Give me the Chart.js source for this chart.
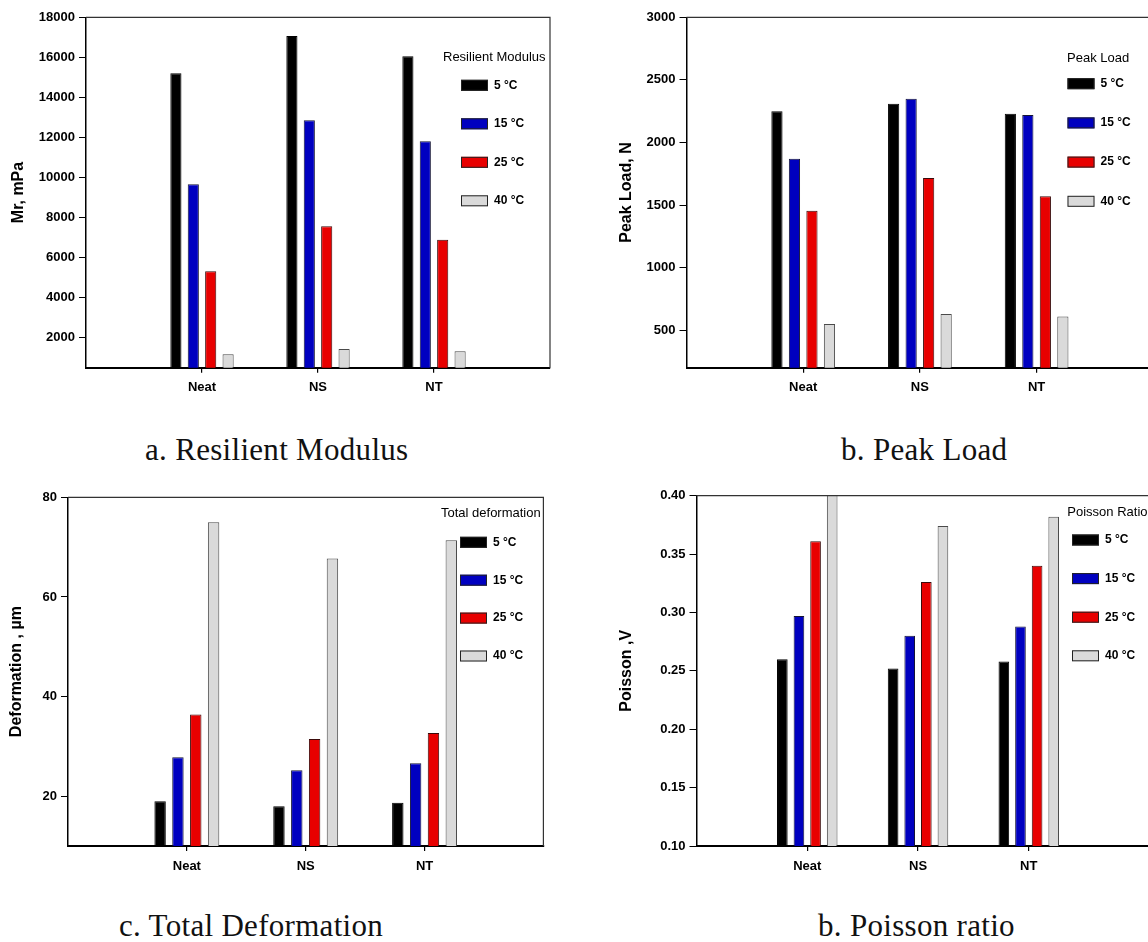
<!DOCTYPE html>
<html>
<head>
<meta charset="utf-8">
<script src="https://cdn.jsdelivr.net/npm/chart.js@4/dist/chart.umd.min.js"></script>
<style>
  html, body { margin: 0; padding: 0; background: #fff; overflow: hidden; }
  body { width: 1148px; height: 942px; position: relative; }
  canvas { position: absolute; }
  .cap {
    position: absolute;
    font-family: "Liberation Serif", "DejaVu Serif", serif;
    font-size: 31px;
    line-height: 31px;
    letter-spacing: 0.3px;
    color: #111;
    white-space: nowrap;
  }
</style>
</head>
<body>
<canvas id="mchart" width="570" height="400" style="left:0px;top:0px"></canvas>
<canvas id="lchart" width="720" height="400" style="left:575px;top:0px"></canvas>
<canvas id="dchart" width="570" height="400" style="left:0px;top:480px"></canvas>
<canvas id="pchart" width="720" height="400" style="left:575px;top:480px"></canvas>

<div class="cap" style="left:145px;top:434px">a. Resilient Modulus</div>
<div class="cap" style="left:841px;top:434px">b. Peak Load</div>
<div class="cap" style="left:119px;top:910px">c. Total Deformation</div>
<div class="cap" style="left:818px;top:910px">b. Poisson ratio</div>

<script>
// data
const groups = ['Neat', 'NS', 'NT'];
const temps = ['5 °C', '15 °C', '25 °C', '40 °C'];

// a. resilient modulus, Mr (mPa)
const mr5 = [15200, 17070, 16050];
const mr15 = [9650, 12850, 11800];
const mr25 = [5300, 7550, 6880];
const mr40 = [1150, 1420, 1300];
const mrTicks = [2000, 4000, 6000, 8000, 10000, 12000, 14000, 16000, 18000];

// b. peak load (N)
const load5 = [2250, 2310, 2230];
const load15 = [1870, 2350, 2220];
const load25 = [1455, 1715, 1570];
const load40 = [550, 630, 610];
const loadTicks = [500, 1000, 1500, 2000, 2500, 3000];

// c. total deformation (µm)
const def5 = [19.0, 18.0, 18.7];
const def15 = [27.8, 25.2, 26.6];
const def25 = [36.4, 31.5, 32.7];
const def40 = [75.0, 67.7, 71.4];
const defTicks = [20, 40, 60, 80];

// d. poisson ratio
const pr5 = [0.260, 0.252, 0.258];
const pr15 = [0.297, 0.280, 0.288];
const pr25 = [0.361, 0.326, 0.340];
const pr40 = [0.410, 0.374, 0.382];
const prTicks = [0.10, 0.15, 0.20, 0.25, 0.30, 0.35, 0.40];

const fills = ['#000000', '#0000c0', '#e80000', '#dadada'];
const edges = ['#000000', '#151535', '#3a0a0a', '#4a4a4a'];
const SANS = '"Liberation Sans", Arial, sans-serif';

Chart.defaults.font.family = SANS;
Chart.defaults.color = '#000';

// empty slots either side of the groups, like the original x range
function padRow(arr, tail){
  return [null].concat(arr, new Array(tail).fill(null));
}

// frame round the plot area (top + right edges)
const frame = {
  id: 'frame',
  afterDraw(chart){
    const a = chart.chartArea;
    const ctx = chart.ctx;
    ctx.save();
    ctx.strokeStyle = '#333';
    ctx.lineWidth = 1.2;
    ctx.beginPath();
    ctx.moveTo(a.left, a.top);
    ctx.lineTo(a.right, a.top);
    ctx.lineTo(a.right, a.bottom);
    ctx.stroke();
    ctx.restore();
  }
};

// legend sitting inside the plot, as in the sigmaplot figures
const boxLegend = {
  id: 'boxLegend',
  afterDraw(chart, args, o){
    const ctx = chart.ctx;
    ctx.save();
    ctx.textBaseline = 'middle';
    ctx.textAlign = 'left';
    ctx.fillStyle = '#000';
    ctx.font = '13px ' + SANS;
    ctx.fillText(o.title, o.titleX, o.titleY);
    chart.data.datasets.forEach((ds, i) => {
      const y = o.rowY + i * o.rowGap;
      ctx.fillStyle = ds.backgroundColor;
      ctx.fillRect(o.boxX, y - 5.5, 27, 11);
      ctx.strokeStyle = '#222';
      ctx.lineWidth = 1;
      ctx.strokeRect(o.boxX + 0.5, y - 5, 26, 10);
      ctx.fillStyle = '#000';
      ctx.font = 'bold 12px ' + SANS;
      ctx.fillText(ds.label, o.boxX + 33, y);
    });
    ctx.restore();
  }
};

function makeChart(id, cfg){
  const tail = cfg.tail;
  const labels = [''].concat(groups, new Array(tail).fill(''));
  const datasets = cfg.series.map((s, i) => ({
    label: temps[i],
    data: padRow(s, tail),
    backgroundColor: fills[i],
    borderColor: edges[i],
    borderWidth: 1,
    borderSkipped: 'start',
    categoryPercentage: 0.6,
    barPercentage: 0.64
  }));

  return new Chart(document.getElementById(id).getContext('2d'), {
    type: 'bar',
    data: { labels: labels, datasets: datasets },
    plugins: [frame, boxLegend],
    options: {
      responsive: false,
      animation: false,
      events: [],
      layout: { padding: { top: cfg.top, right: cfg.right, left: 0, bottom: 0 } },
      plugins: {
        legend: { display: false },
        tooltip: { enabled: false },
        boxLegend: cfg.legend
      },
      scales: {
        x: {
          type: 'category',
          offset: false,
          grid: {
            offset: false,
            drawOnChartArea: false,
            tickLength: 5,
            lineWidth: 1.2,
            color: (c) => (c.tick && c.tick.label) ? '#000' : 'rgba(0,0,0,0)'
          },
          border: { display: true, color: '#000', width: 2 },
          ticks: {
            autoSkip: false,
            maxRotation: 0,
            padding: cfg.xPad,
            font: { size: 13, weight: 'bold' },
            color: '#000'
          },
          afterFit: (s) => { s.height = cfg.xHeight; }
        },
        y: {
          min: cfg.min,
          max: cfg.max,
          grid: { drawOnChartArea: false, tickLength: 7, color: '#000', lineWidth: 1 },
          border: { display: true, color: '#000', width: 1.5 },
          ticks: {
            padding: 4,
            font: { size: 13, weight: 'bold' },
            color: '#000',
            callback: cfg.fmt
          },
          title: {
            display: true,
            text: cfg.yTitle,
            color: '#000',
            font: { size: 16, weight: 'bold' },
            padding: { top: cfg.titlePad, bottom: 0 }
          },
          afterBuildTicks: (s) => { s.ticks = cfg.ticks.map(v => ({ value: v })); },
          afterFit: (s) => { s.width = cfg.yWidth; }
        }
      }
    }
  });
}

const plain = (v) => String(v);

makeChart('mchart', {
  series: [mr5, mr15, mr25, mr40], tail: 1,
  min: 480, max: 18000, ticks: mrTicks, fmt: plain,
  yTitle: 'Mr, mPa', titlePad: 9, yWidth: 86,
  top: 17.3, right: 20, xHeight: 32.3, xPad: 7,
  legend: { title: 'Resilient Modulus', titleX: 443, titleY: 57.5, boxX: 461, rowY: 85.3, rowGap: 38.5 }
});

makeChart('lchart', {
  series: [load5, load15, load25, load40], tail: 2,
  min: 200, max: 3000, ticks: loadTicks, fmt: plain,
  yTitle: 'Peak Load, N', titlePad: 42, yWidth: 111.5,
  top: 17.3, right: 25, xHeight: 32.3, xPad: 7,
  legend: { title: 'Peak Load', titleX: 492, titleY: 58, boxX: 492.5, rowY: 83.7, rowGap: 39.2 }
});

makeChart('dchart', {
  series: [def5, def15, def25, def40], tail: 1,
  min: 10, max: 80, ticks: defTicks, fmt: plain,
  yTitle: 'Deformation , µm', titlePad: 6.7, yWidth: 68,
  top: 17.3, right: 26.6, xHeight: 34, xPad: 8,
  legend: { title: 'Total deformation', titleX: 441, titleY: 33.3, boxX: 460, rowY: 62.3, rowGap: 37.9 }
});

makeChart('pchart', {
  series: [pr5, pr15, pr25, pr40], tail: 2,
  min: 0.10, max: 0.40, ticks: prTicks, fmt: (v) => Number(v).toFixed(2),
  yTitle: 'Poisson ,V', titlePad: 42, yWidth: 121.5,
  top: 15.7, right: 44.7, xHeight: 34, xPad: 8,
  legend: { title: 'Poisson Ratio', titleX: 492.3, titleY: 32.7, boxX: 497, rowY: 60, rowGap: 38.6 }
});
</script>
</body>
</html>
